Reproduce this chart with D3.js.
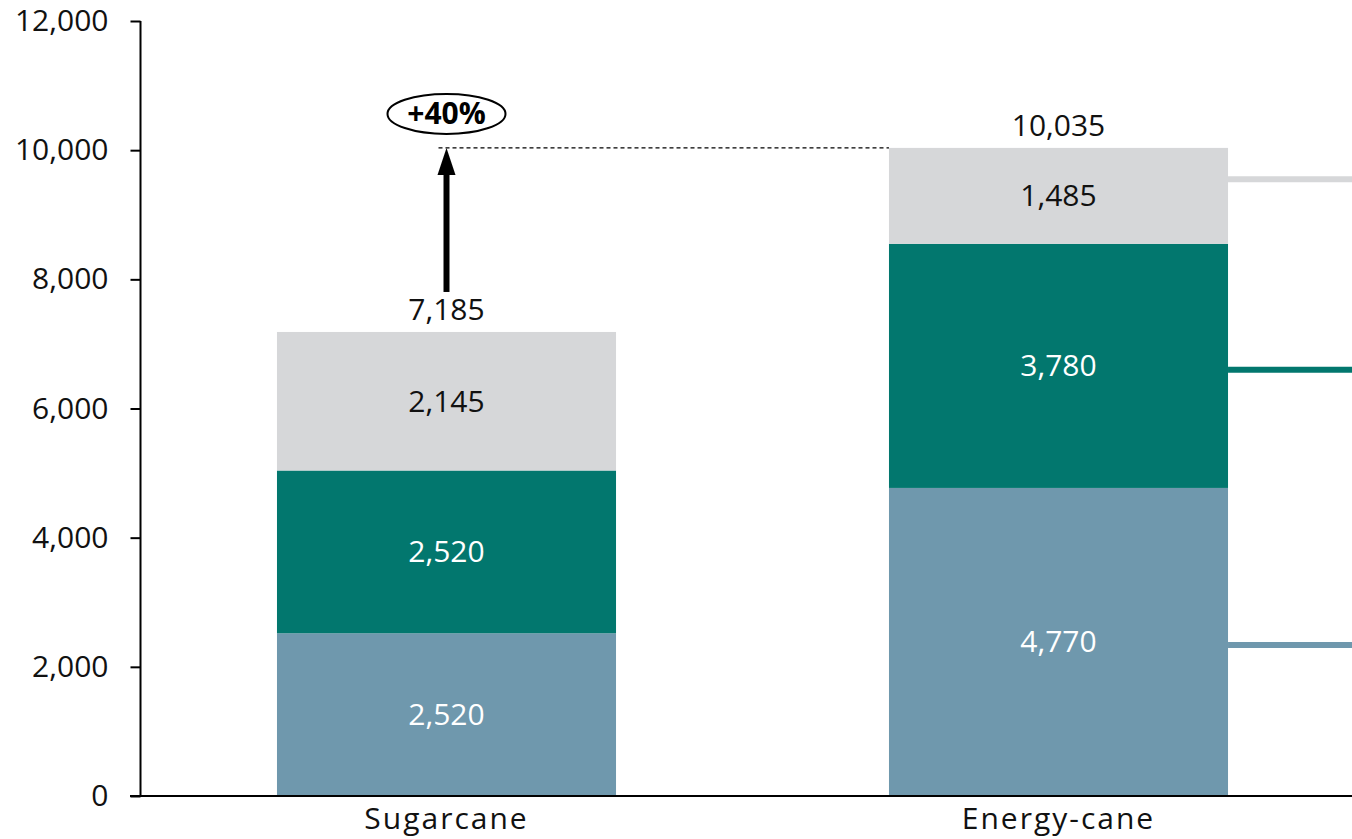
<!DOCTYPE html>
<html>
<head>
<meta charset="utf-8">
<script src="https://cdn.jsdelivr.net/npm/d3@7"></script>
<style>
  html, body { margin: 0; padding: 0; background: #fff; }
  svg { display: block; }
  text { font-family: "Open Sans", "Liberation Sans", sans-serif; }
</style>
</head>
<body>
<svg id="chart" width="1352" height="839"></svg>
<script>
// ---- data ----
const categories = ["Sugarcane", "Energy-cane"];
const seriesNames = ["Bottom", "Middle", "Top"];
const bottomValues = [2520, 4770];
const middleValues = [2520, 3780];
const topValues = [2145, 1485];
const totals = [7185, 10035];
const yTicks = [0, 2000, 4000, 6000, 8000, 10000, 12000];
const colors = ["#6F98AD", "#02776E", "#D6D7D9"];
const labelColors = ["#ffffff", "#ffffff", "#111111"];
const legendLeaderValues = [2340, 6600, 9550];
const growthLabel = "+40%";

// ---- layout ----
const svg = d3.select("#chart");
const W = 1352, H = 839;
const x0 = 140.5, yBottom = 796, yTop = 21;
const FS = 30;

const y = d3.scaleLinear().domain([0, 12000]).range([yBottom, yTop]);
const x = d3.scaleBand().domain(categories).range([x0, 1364.5])
  .paddingInner(0.446).paddingOuter(0.223);

const stackData = categories.map((c, i) => ({
  cat: c, Bottom: bottomValues[i], Middle: middleValues[i], Top: topValues[i]
}));
const stacked = d3.stack().keys(seriesNames)(stackData);

// bars
const g = svg.append("g");
stacked.forEach((layer, li) => {
  g.selectAll(null).data(layer).enter().append("rect")
    .attr("x", d => x(d.data.cat))
    .attr("width", x.bandwidth())
    .attr("y", d => y(d[1]))
    .attr("height", d => y(d[0]) - y(d[1]))
    .attr("fill", colors[li]);
  g.selectAll(null).data(layer).enter().append("text")
    .attr("x", d => x(d.data.cat) + x.bandwidth() / 2)
    .attr("y", d => y((d[0] + d[1]) / 2))
    .attr("dy", "0.35em")
    .attr("text-anchor", "middle")
    .attr("font-size", FS)
    .attr("fill", labelColors[li])
    .text(d => d3.format(",")(d[1] - d[0]));
});

// totals
g.selectAll(null).data(categories).enter().append("text")
  .attr("x", d => x(d) + x.bandwidth() / 2)
  .attr("y", (d, i) => y(totals[i]) - 22)
  .attr("dy", "0.35em")
  .attr("text-anchor", "middle")
  .attr("font-size", FS)
  .attr("fill", "#111")
  .text((d, i) => d3.format(",")(totals[i]));

// legend leader lines
legendLeaderValues.forEach((v, i) => {
  svg.append("line")
    .attr("x1", x(categories[1]) + x.bandwidth())
    .attr("x2", W)
    .attr("y1", y(v)).attr("y2", y(v))
    .attr("stroke", colors[i])
    .attr("stroke-width", 6);
});

// y axis
const yAxis = svg.append("g").attr("transform", `translate(${x0},0)`)
  .call(d3.axisLeft(y).tickValues(yTicks).tickFormat(d3.format(",")).tickSize(10).tickPadding(22));
yAxis.select(".domain").attr("stroke", "#000").attr("stroke-width", 2)
  .attr("d", `M0,${yTop}V${yBottom}`);
yAxis.selectAll(".tick line").attr("stroke", "#000").attr("stroke-width", 2);
yAxis.selectAll(".tick text").attr("font-size", FS).attr("fill", "#111")
  .attr("font-family", "'Open Sans', sans-serif");

// x axis
const xAxis = svg.append("g").attr("transform", `translate(0,${yBottom})`)
  .call(d3.axisBottom(x).tickSize(0).tickPadding(12));
xAxis.select(".domain").attr("stroke", "#000").attr("stroke-width", 2)
  .attr("d", `M130,0H${W}`);
xAxis.selectAll(".tick text").attr("font-size", FS).attr("fill", "#111")
  .attr("letter-spacing", "2px")
  .attr("font-family", "'Open Sans', sans-serif");

// growth annotation
const ax = x(categories[0]) + x.bandwidth() / 2;
const tipY = y(totals[1]);
svg.append("line")
  .attr("x1", ax - 8).attr("x2", x(categories[1]))
  .attr("y1", tipY).attr("y2", tipY)
  .attr("stroke", "#000").attr("stroke-width", 1.3)
  .attr("stroke-dasharray", "4,3");
svg.append("line")
  .attr("x1", ax).attr("x2", ax)
  .attr("y1", y(totals[0]) - 40).attr("y2", tipY + 24)
  .attr("stroke", "#000").attr("stroke-width", 6);
svg.append("path")
  .attr("d", `M${ax},${tipY} L${ax - 9},${tipY + 27} L${ax + 9},${tipY + 27} Z`)
  .attr("fill", "#000");
svg.append("ellipse")
  .attr("cx", ax).attr("cy", tipY - 34)
  .attr("rx", 59).attr("ry", 20)
  .attr("fill", "#fff").attr("stroke", "#000").attr("stroke-width", 2);
svg.append("text")
  .attr("x", ax).attr("y", tipY - 34).attr("dy", "0.35em")
  .attr("text-anchor", "middle")
  .attr("font-size", FS).attr("font-weight", "bold").attr("fill", "#000")
  .text(growthLabel);
</script>
</body>
</html>
